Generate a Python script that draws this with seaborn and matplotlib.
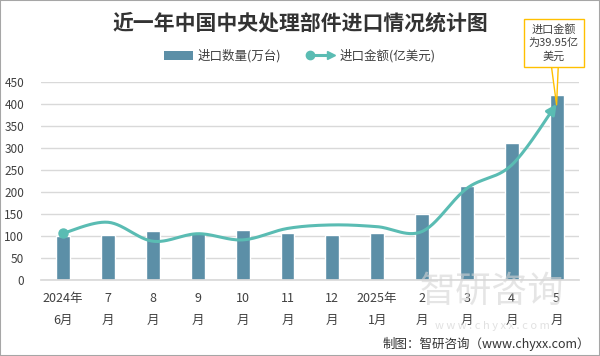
import numpy as np
import pandas as pd
import matplotlib
matplotlib.use("Agg")
import matplotlib.pyplot as plt
import seaborn as sns
from matplotlib.lines import Line2D
from matplotlib.patches import Patch, Rectangle
from matplotlib.legend_handler import HandlerBase

sns.set_theme(style="white")
plt.rcParams['font.family'] = ['Noto Sans CJK SC', 'DejaVu Sans']

months = ["2024年\n6月", "7\n月", "8\n月", "9\n月", "10\n月", "11\n月", "12\n月",
          "2025年\n1月", "2\n月", "3\n月", "4\n月", "5\n月"]
quantity = [99, 102, 111, 106, 114, 107, 102, 107, 150, 214, 311, 419]   # 万台
amount = [10.6, 13.1, 8.8, 10.5, 9.1, 11.7, 12.5, 12.1, 11.0, 20.8, 26.1, 39.95]  # 亿美元
yticks = [0, 50, 100, 150, 200, 250, 300, 350, 400, 450]

bar_color = "#5C8FA7"
line_color = "#5ABCB3"
text_color = "#404040"

df = pd.DataFrame({"month": months, "quantity": quantity})

fig = plt.figure(figsize=(6, 3.56), dpi=100)
ax = fig.add_axes([0.068, 0.2135, 0.897, 0.557])

sns.barplot(data=df, x="month", y="quantity", color=bar_color, width=0.31,
            saturation=1, ax=ax, zorder=2)
ax.set_xlim(-0.5, len(months) - 0.5)
ax.set_ylim(0, 450)
ax.set_yticks(yticks)
ax.set_yticklabels([str(v) for v in yticks], fontsize=8.5, color=text_color)
ax.set_xticks(range(len(months)))
ax.set_xticklabels(months, fontsize=9, color=text_color, linespacing=1.85)
ax.tick_params(axis='x', length=0, pad=9)
ax.tick_params(axis='y', length=0, pad=12)
ax.set_xlabel("")
ax.set_ylabel("")
ax.grid(axis='y', color="#D9D9D9", linewidth=1, zorder=0)
ax.set_axisbelow(True)
for s in ["top", "right", "left"]:
    ax.spines[s].set_visible(False)
ax.spines["bottom"].set_color("#D9D9D9")

# smooth line on secondary (hidden) axis
ax2 = ax.twinx()
ax2.set_ylim(0, 45)
ax2.axis("off")
x = np.arange(len(amount), dtype=float)
y = np.array(amount, dtype=float)
P = np.column_stack([x, y * 10])
xs, ys = [], []
t = np.linspace(0, 1, 30)
n = len(P)
for i in range(n - 1):
    p0 = P[i - 1] if i > 0 else P[i]
    p1 = P[i]
    p2 = P[i + 1]
    p3 = P[i + 2] if i + 2 < n else P[i + 1]
    c1 = p1 + (p2 - p0) / 6
    c2 = p2 - (p3 - p1) / 6
    b = ((1 - t) ** 3)[:, None] * p1 + (3 * (1 - t) ** 2 * t)[:, None] * c1 + \
        (3 * (1 - t) * t ** 2)[:, None] * c2 + (t ** 3)[:, None] * p2
    xs.extend(b[:, 0]); ys.extend(b[:, 1] / 10)
xs = np.array(xs); ys = np.array(ys)
ax2.plot(xs[:-6], ys[:-6], color=line_color, linewidth=2.2, solid_capstyle='round', zorder=3)
ax2.annotate("", xy=(xs[-1], ys[-1]), xytext=(xs[-7], ys[-7]),
             arrowprops=dict(arrowstyle="-|>,head_length=0.5,head_width=0.25",
                             color=line_color, lw=2.2, shrinkA=0, shrinkB=0))
ax2.plot([x[0]], [y[0]], marker="o", markersize=6.5, color=line_color, zorder=4)

# callout
ax2.annotate("进口金额\n为39.95亿\n美元", xy=(x[-1], y[-1] - 0.2), xytext=(0.923, 0.88),
             textcoords="figure fraction", ha="center", va="center", fontsize=8,
             color=text_color, linespacing=1.4,
             bbox=dict(boxstyle="square,pad=0.45", fc="white", ec="#FFC000", lw=1),
             arrowprops=dict(arrowstyle="wedge,tail_width=0.6", fc="white", ec="#FFC000",
                             lw=1, shrinkA=0, shrinkB=0),
             zorder=6)

# title
fig.text(0.5, 0.935, "近一年中国中央处理部件进口情况统计图", ha="center", va="center",
         fontsize=15, fontweight="bold", color="#333333")


class HandlerArrowLine(HandlerBase):
    def create_artists(self, legend, orig_handle, xdescent, ydescent, width, height,
                       fontsize, trans):
        yc = height / 2 - ydescent
        x0 = -xdescent + 3
        x1 = width - xdescent - 3
        ln = Line2D([x0, x1 - 3], [yc, yc], color=line_color, lw=2.2)
        c = Line2D([x0], [yc], marker="o", markersize=6, color=line_color, lw=0)
        tr = Line2D([x1], [yc], marker=">", markersize=5.5, color=line_color, lw=0)
        for a in (ln, c, tr):
            a.set_transform(trans)
        return [ln, c, tr]


# legend
line_handle = Line2D([0], [0], color=line_color, label="进口金额(亿美元)")
handles = [Patch(facecolor=bar_color, edgecolor="none", label="进口数量(万台)"), line_handle]
fig.legend(handles=handles, loc="center", bbox_to_anchor=(0.5, 0.843), ncol=2,
           frameon=False, fontsize=9, handlelength=2.3, handletextpad=0.4,
           columnspacing=2.0, labelcolor=text_color,
           handler_map={line_handle: HandlerArrowLine()})

# watermark
fig.text(0.82, 0.18, "智研咨询", fontsize=26, color="#D5D5D5", ha="center", va="center",
         alpha=0.6, zorder=0)
fig.text(0.82, 0.085, "w w w . c h y x x . c o m", fontsize=8, color="#D5D5D5",
         ha="center", va="center", alpha=0.7)

# source
fig.text(0.983, 0.035, "制图：智研咨询（www.chyxx.com）", ha="right", va="center",
         fontsize=9, color="#333333")

fig.patches.append(Rectangle((0, 0), 1, 1, transform=fig.transFigure, fill=False,
                             ec="#A6A6A6", lw=1.5))

fig.savefig("out.png", dpi=100)
